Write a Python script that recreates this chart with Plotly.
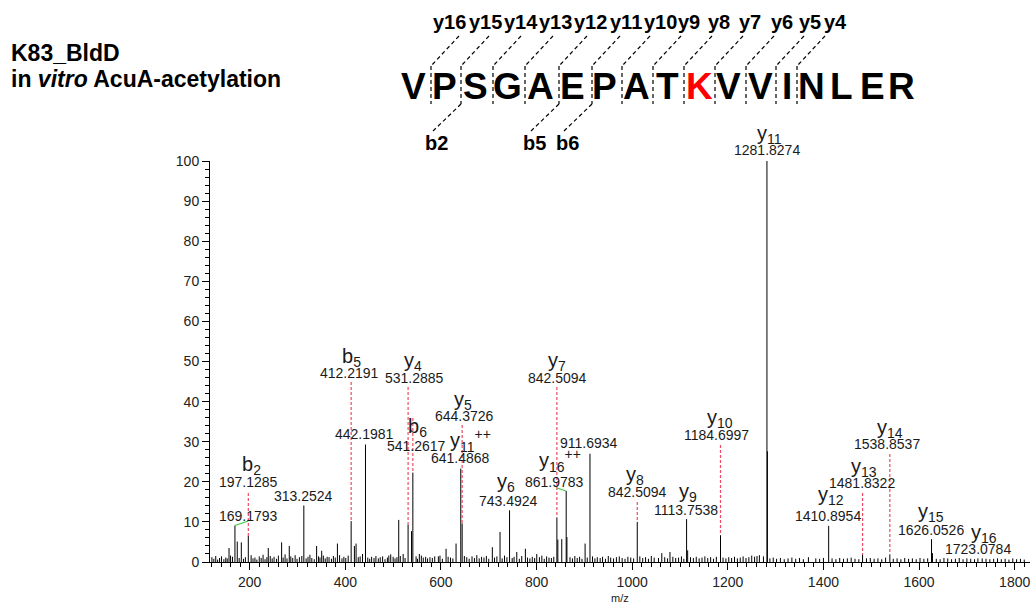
import plotly.graph_objects as go

# ---------------- data ----------------
peak_mz = [156.8, 169.18, 174.0, 182.5, 197.13, 238.9, 266.8, 282.8, 313.25, 340.0,
           350.6, 383.5, 412.22, 419.0, 422.5, 442.20, 495.0, 511.7, 521.0, 531.29,
           538.5, 541.26, 554.8, 594.6, 610.7, 631.6, 641.49, 644.37, 707.5, 723.6,
           743.49, 758.6, 776.6, 800.4, 842.51, 844.5, 852.7, 861.98, 863.5, 901.5,
           911.69, 1010.6, 1061.9, 1079.0, 1113.75, 1116.0, 1184.70, 1266.0, 1274.5, 1281.83,
           1282.83, 1368.6, 1410.90, 1481.83, 1538.85, 1626.05, 1628.0, 1723.08]
peak_int = [3.5, 9.1, 5.1, 4.9, 6.5, 3.5, 4.9, 4.0, 14.1, 4.0,
            2.8, 4.6, 10.2, 4.0, 4.6, 29.3, 1.9, 10.5, 2.0, 9.3,
            7.7, 22.3, 2.0, 1.4, 3.3, 4.6, 23.3, 9.6, 3.7, 7.5,
            12.9, 2.5, 3.3, 2.0, 11.1, 5.6, 5.7, 17.7, 6.2, 4.6,
            27.0, 10.0, 2.2, 2.5, 10.7, 2.9, 6.7, 1.7, 1.4, 100.0,
            27.6, 1.2, 9.0, 1.9, 1.9, 5.7, 2.2, 0.9]

noise_mz = [121, 125, 129, 133, 137, 141, 146, 150, 153, 160,
            164, 178, 187, 191, 203, 207, 211, 215, 220, 224,
            228, 232, 236, 243, 247, 251, 256, 260, 270, 274,
            278, 286, 290, 295, 299, 304, 309, 318, 322, 326,
            330, 335, 344, 347, 354, 358, 362, 366, 371, 375,
            379, 388, 393, 397, 401, 406, 427, 431, 436, 447,
            451, 455, 460, 464, 469, 473, 478, 483, 488, 491,
            500, 504, 508, 515, 525, 548, 551, 559, 563, 568,
            572, 577, 582, 587, 598, 603, 615, 620, 625, 649,
            654, 659, 665, 670, 675, 680, 685, 690, 695, 700,
            712, 717, 728, 733, 738, 749, 753, 764, 769, 781,
            786, 791, 796, 806, 811, 816, 821, 826, 831, 836,
            870, 875, 880, 885, 890, 895, 906, 917, 922, 927,
            933, 938, 944, 950, 955, 961, 967, 973, 979, 985,
            991, 997, 1003, 1016, 1022, 1028, 1034, 1040, 1046, 1055,
            1068, 1074, 1085, 1091, 1097, 1103, 1108, 1122, 1128, 1134,
            1140, 1146, 1152, 1158, 1164, 1170, 1176, 1190, 1196, 1202,
            1208, 1214, 1220, 1226, 1232, 1238, 1244, 1250, 1256, 1261,
            1288, 1295, 1302, 1310, 1318, 1326, 1334, 1342, 1350, 1358,
            1384, 1392, 1400, 1418, 1426, 1434, 1442, 1450, 1458, 1466,
            1474, 1490, 1498, 1506, 1514, 1522, 1530, 1546, 1554, 1562,
            1570, 1578, 1586, 1594, 1602, 1610, 1618, 1636, 1644, 1652,
            1660, 1668, 1676, 1684, 1692, 1700, 1708, 1716, 1732, 1740,
            1748, 1756, 1764, 1772, 1780, 1788, 1796, 1804, 1812, 1820]
noise_int = [1.2, 0.8, 1.5, 0.6, 1.0, 1.4, 0.7, 1.1, 0.9, 1.6,
             1.3, 1.0, 0.8, 1.2, 1.7, 0.9, 1.1, 0.6, 1.4, 1.0,
             1.8, 0.7, 1.2, 1.5, 0.9, 1.3, 0.8, 1.6, 1.1, 1.9,
             0.9, 1.4, 1.0, 1.7, 0.8, 1.2, 1.5, 0.9, 1.3, 1.8,
             1.0, 0.7, 1.4, 1.1, 1.6, 0.9, 1.3, 1.2, 0.8, 1.5,
             1.1, 1.7, 0.9, 1.3, 1.0, 1.6, 1.2, 1.4, 2.0, 1.1,
             0.8, 1.3, 1.0, 1.5, 0.9, 1.2, 1.4, 0.7, 1.1, 1.6,
             1.3, 0.9, 1.2, 1.5, 1.0, 1.4, 0.8, 1.6, 1.1, 1.3,
             0.9, 1.2, 1.0, 1.4, 1.6, 0.8, 1.3, 1.1, 0.9, 1.5,
             1.2, 0.8, 1.4, 1.0, 1.7, 0.9, 1.3, 1.1, 1.5, 0.8,
             1.1, 1.4, 0.9, 1.6, 1.2, 1.0, 1.3, 0.8, 1.5, 1.1,
             0.9, 1.3, 1.0, 1.2, 1.6, 0.8, 1.4, 1.1, 1.0, 1.3,
             1.2, 0.9, 1.5, 1.0, 1.3, 0.8, 1.1, 1.4, 0.9, 1.2,
             1.0, 1.3, 0.8, 1.5, 1.1, 0.9, 1.2, 1.4, 1.0, 0.8,
             1.3, 1.1, 0.9, 1.4, 1.0, 1.2, 0.8, 1.5, 1.1, 1.0,
             1.2, 0.9, 1.3, 1.0, 1.1, 1.4, 0.8, 1.2, 1.0, 1.3,
             0.9, 1.1, 1.4, 1.0, 1.2, 0.8, 1.3, 1.1, 0.9, 1.2,
             1.0, 1.3, 0.9, 1.1, 1.4, 1.0, 1.2, 1.6, 1.3, 1.5,
             0.9, 1.1, 0.8, 1.0, 0.7, 0.9, 1.1, 0.8, 1.0, 0.7,
             0.9, 0.8, 1.0, 0.9, 0.7, 1.0, 0.8, 0.9, 1.1, 0.8,
             0.7, 0.9, 1.0, 0.8, 0.9, 0.7, 1.1, 0.8, 0.9, 0.7,
             1.0, 0.8, 0.9, 0.7, 1.0, 0.8, 0.9, 0.8, 0.7, 1.0,
             0.9, 0.7, 0.8, 1.0, 0.7, 0.9, 0.8, 0.7, 0.9, 0.8,
             0.7, 0.8, 0.9, 0.7, 0.8, 0.6, 0.9, 0.7, 0.8, 0.6]

# annotated fragment ions
ion_names = ["b<sub>2</sub>", "b<sub>5</sub>", "y<sub>4</sub>", "b<sub>6</sub>", "y<sub>5</sub>",
             "y<sub>11</sub><sup>++</sup>", "y<sub>6</sub>", "y<sub>7</sub>", "y<sub>16</sub><sup>++</sup>",
             "y<sub>8</sub>", "y<sub>9</sub>", "y<sub>10</sub>", "y<sub>11</sub>", "y<sub>12</sub>",
             "y<sub>13</sub>", "y<sub>14</sub>", "y<sub>15</sub>", "y<sub>16</sub>"]
ion_mz_text = ["197.1285", "412.2191", "531.2885", "541.2617", "644.3726",
               "641.4868", "743.4924", "842.5094", "861.9783",
               "842.5094", "1113.7538", "1184.6997", "1281.8274", "1410.8954",
               "1481.8322", "1538.8537", "1626.0526", "1723.0784"]
ion_peak_mz = [197.13, 412.22, 531.29, 541.26, 644.37,
               641.49, 743.49, 842.51, 861.98,
               1010.6, 1113.75, 1184.70, 1281.83, 1410.90,
               1481.83, 1538.85, 1626.05, 1723.08]
plain_mz_text = ["169.1793", "313.2524", "442.1981", "911.6934"]

sequence = list("VPSGAEPATKVVINLER")
modified_index = 9          # acetylated K
y_ions = [16, 15, 14, 13, 12, 11, 10, 9, 8, 7, 6, 5, 4]
b_ions = [2, 5, 6]

title_line1 = "K83_BldD"
title_line2 = "in <i>vitro</i> AcuA-acetylation"
x_title = "m/z"

# ---------------- layout geometry (pixels) ----------------
FIG_W, FIG_H = 1032, 609
L, T, W, H = 210, 161, 820, 401
X_RANGE = [117, 1832]
Y_RANGE = [0, 100]
FONT = "Liberation Sans, Arial, sans-serif"
TXT = "#1a1a1a"
RED = "#ee4a63"
GREEN = "#3cc83c"


def xp(px):
    return (px - L) / W


def yp(py):
    return (T + H - py) / H


def int_at(py):
    return (T + H - py) / H * (Y_RANGE[1] - Y_RANGE[0])


# label placement: (name_x, name_y, num_x, num_y, red line top px or None)
ion_label_pos = [
    (251, 465, 248, 482, 493),
    (351, 357, 349, 373, 382),
    (413, 361, 414, 378, 387),
    (417, 427, 416, 446, 418),
    (463, 400, 464, 416, 425),
    (470, 440, 460, 458, None),
    (506, 482, 508, 501, None),
    (557, 361, 557, 378, 387),
    (560, 460, 554, 482, None),
    (635, 475, 637, 492, 502),
    (688, 492, 686, 510, None),
    (720, 418, 716, 435, 445),
    (769, 134, 767, 150, None),
    (831, 495, 828, 516, None),
    (864, 467, 862, 483, 493),
    (890, 428, 887, 444, 454),
    (931, 512, 931, 530, None),
    (984, 533, 978, 549, None),
]
plain_label_pos = [(248, 516), (303, 496), (364, 434), (589, 443)]

letter_x = [413, 444, 475, 507, 540, 572, 604, 636, 667, 699, 728, 760, 787, 811, 841, 872, 901]
boundary_x = [431, 461, 493, 525, 559, 592, 622, 653, 684, 715, 746, 776, 797]
y_label_x = [449.6, 485, 521, 555, 590.7, 626, 660, 689, 719, 749.6, 781.8, 810, 835]
SEQ_Y, SEQ_TOP, SEQ_BOT = 86, 66, 104
YLAB_Y, YDIAG_TOP = 22, 36
BLAB_Y, BDIAG_BOT = 143, 131
DIAG_DX = 28

# ---------------- figure ----------------
fig = go.Figure()

sx, sy = [], []
for m, h in zip(noise_mz, noise_int):
    sx += [m, m, None]
    sy += [0, h, None]
for m, h in zip(peak_mz, peak_int):
    sx += [m, m, None]
    sy += [0, h, None]
fig.add_trace(go.Scatter(x=sx, y=sy, mode="lines", line=dict(color="black", width=1),
                         hoverinfo="skip", showlegend=False))

shapes = []
annotations = []


def peak_height(m):
    best = min(range(len(peak_mz)), key=lambda i: abs(peak_mz[i] - m))
    return peak_int[best]


# ion labels
for name, txt, pm, pos in zip(ion_names, ion_mz_text, ion_peak_mz, ion_label_pos):
    nx, ny, tx, ty, red_top = pos
    annotations.append(dict(text=name, x=xp(nx), y=yp(ny), xref="paper", yref="paper",
                            showarrow=False, xanchor="center", yanchor="middle",
                            font=dict(size=20, color=TXT, family=FONT)))
    annotations.append(dict(text=txt, x=xp(tx), y=yp(ty), xref="paper", yref="paper",
                            showarrow=False, xanchor="center", yanchor="middle",
                            font=dict(size=14, color=TXT, family=FONT)))
    if red_top is not None:
        shapes.append(dict(type="line", xref="x", yref="y", x0=pm, x1=pm,
                           y0=int_at(red_top), y1=peak_height(pm),
                           line=dict(color=RED, width=1.2, dash="3px,2px")))

for txt, pos in zip(plain_mz_text, plain_label_pos):
    annotations.append(dict(text=txt, x=xp(pos[0]), y=yp(pos[1]), xref="paper", yref="paper",
                            showarrow=False, xanchor="center", yanchor="middle",
                            font=dict(size=14, color=TXT, family=FONT)))

# green connectors
shapes.append(dict(type="line", xref="x", yref="y", x0=169.18, x1=197.13,
                   y0=peak_height(169.18), y1=int_at(521), line=dict(color=GREEN, width=1.2)))
shapes.append(dict(type="line", xref="x", yref="y", x0=842.51, x1=861.98,
                   y0=int_at(488), y1=peak_height(861.98), line=dict(color=GREEN, width=1.2)))

# title
annotations.append(dict(text="<b>" + title_line1 + "</b>", x=xp(9), y=yp(53), xref="paper", yref="paper",
                        showarrow=False, xanchor="left", yanchor="middle",
                        font=dict(size=23, color="black", family=FONT)))
annotations.append(dict(text="<b>" + title_line2 + "</b>", x=xp(9), y=yp(79), xref="paper", yref="paper",
                        showarrow=False, xanchor="left", yanchor="middle",
                        font=dict(size=23, color="black", family=FONT)))

# sequence
for i, aa in enumerate(sequence):
    annotations.append(dict(text="<b>" + aa + "</b>", x=xp(letter_x[i]), y=yp(SEQ_Y), xref="paper", yref="paper",
                            showarrow=False, xanchor="center", yanchor="middle",
                            font=dict(size=37, color="#ff0000" if i == modified_index else "black", family=FONT)))

DASH = dict(color="black", width=1.2, dash="4px,3px")
for k, lx in zip(y_ions, y_label_x):
    bi = len(sequence) - k          # number of N-terminal residues before the cleavage
    bx = boundary_x[bi - 1]
    annotations.append(dict(text="<b>y" + str(k) + "</b>", x=xp(lx), y=yp(YLAB_Y), xref="paper", yref="paper",
                            showarrow=False, xanchor="center", yanchor="middle",
                            font=dict(size=20, color="black", family=FONT)))
    shapes.append(dict(type="line", xref="paper", yref="paper", x0=xp(bx + DIAG_DX), y0=yp(YDIAG_TOP),
                       x1=xp(bx), y1=yp(SEQ_TOP), line=DASH))
    shapes.append(dict(type="line", xref="paper", yref="paper", x0=xp(bx), y0=yp(SEQ_TOP),
                       x1=xp(bx), y1=yp(SEQ_BOT), line=DASH))

for k in b_ions:
    bx = boundary_x[k - 1]
    shapes.append(dict(type="line", xref="paper", yref="paper", x0=xp(bx), y0=yp(SEQ_BOT),
                       x1=xp(bx - DIAG_DX), y1=yp(BDIAG_BOT), line=DASH))
    annotations.append(dict(text="<b>b" + str(k) + "</b>", x=xp(bx - DIAG_DX + 3), y=yp(BLAB_Y),
                            xref="paper", yref="paper", showarrow=False, xanchor="center", yanchor="middle",
                            font=dict(size=20, color="black", family=FONT)))

annotations.append(dict(text=x_title, x=xp(620), y=yp(598), xref="paper", yref="paper", showarrow=False,
                        xanchor="center", yanchor="middle", font=dict(size=11, color=TXT, family=FONT)))

axis_common = dict(showline=True, linecolor="black", linewidth=1, ticks="outside", ticklen=7,
                   tickwidth=1, tickcolor="black", showgrid=False, zeroline=False,
                   tickfont=dict(size=14, color="#222222", family=FONT))

fig.update_layout(
    width=FIG_W, height=FIG_H,
    margin=dict(l=L, r=FIG_W - L - W, t=T, b=FIG_H - T - H),
    paper_bgcolor="white", plot_bgcolor="white",
    xaxis=dict(range=X_RANGE, tick0=0, dtick=200,
               minor=dict(dtick=20, ticks="outside", ticklen=4, tickcolor="black", showgrid=False),
               **axis_common),
    yaxis=dict(range=Y_RANGE, tick0=0, dtick=10,
               minor=dict(dtick=2, ticks="outside", ticklen=4, tickcolor="black", showgrid=False),
               **axis_common),
    shapes=shapes, annotations=annotations,
    font=dict(family=FONT),
)

fig.write_html("out.html")
